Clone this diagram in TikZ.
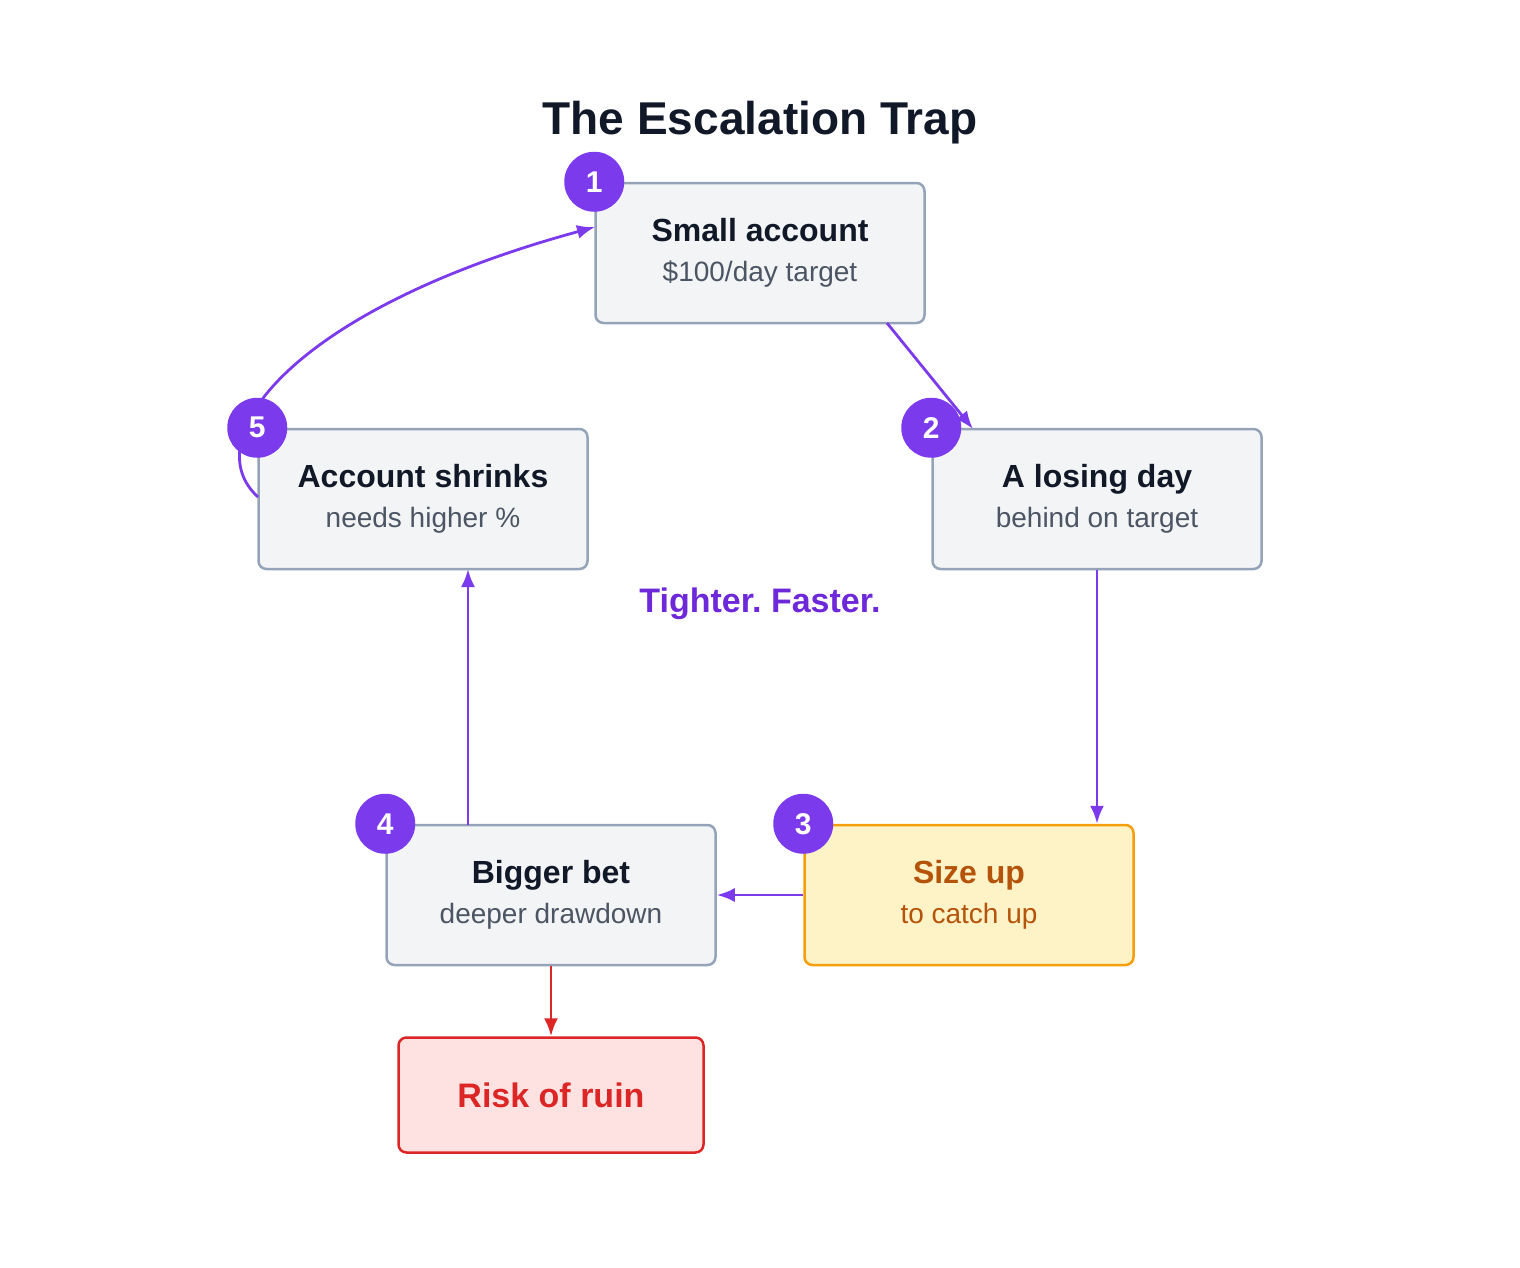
\documentclass[tikz,border=0pt]{standalone}
\usepackage{fontspec}
\setmainfont{Liberation Sans}
\usetikzlibrary{arrows.meta}
\definecolor{pur}{HTML}{7C3AED}
\definecolor{purd}{HTML}{6D28D9}
\definecolor{gfill}{HTML}{F3F4F6}
\definecolor{gbord}{HTML}{94A3B8}
\definecolor{tdark}{HTML}{111827}
\definecolor{tsub}{HTML}{4B5563}
\definecolor{ybord}{HTML}{F59E0B}
\definecolor{yfill}{HTML}{FEF3C7}
\definecolor{ytext}{HTML}{B45309}
\definecolor{rbord}{HTML}{DC2626}
\definecolor{rfill}{HTML}{FEE2E2}
\begin{document}
\frenchspacing
\begin{tikzpicture}[x=1pt,y=-1pt,
 box/.style={draw=gbord,fill=gfill,line width=2.5pt,rounded corners=8pt,minimum width=329pt,minimum height=140pt,align=center,inner sep=0pt,font=\fontsize{28}{40}\selectfont},
 num/.style={circle,fill=pur,minimum size=60pt,inner sep=0pt,text=white,font=\fontsize{30}{30}\selectfont\bfseries},
 arr/.style={draw=pur,line width=2.8pt,-{Latex[length=18pt,width=14pt]}}]
\useasboundingbox (0,0) rectangle (1520,1267);
\node[font=\fontsize{46}{46}\selectfont\bfseries,text=tdark] (title) at (760,123) {The Escalation Trap};
\node[box] (b1) at (760,253) {{\color{tdark}\fontsize{32}{40}\selectfont\bfseries Small account}\\{\color{tsub}\$100/day target}};
\node[box] (b2) at (1097,499) {{\color{tdark}\fontsize{32}{40}\selectfont\bfseries A losing day}\\{\color{tsub}behind on target}};
\node[box,draw=ybord,fill=yfill] (b3) at (969,895) {{\color{ytext}\fontsize{32}{40}\selectfont\bfseries Size up}\\{\color{ytext}to catch up}};
\node[box] (b4) at (551,895) {{\color{tdark}\fontsize{32}{40}\selectfont\bfseries Bigger bet}\\{\color{tsub}deeper drawdown}};
\node[box] (b5) at (423,499) {{\color{tdark}\fontsize{32}{40}\selectfont\bfseries Account shrinks}\\{\color{tsub}needs higher \%}};
\node[box,draw=rbord,fill=rfill,minimum width=305pt,minimum height=115pt,text=rbord,font=\fontsize{34}{38}\selectfont\bfseries] (r) at (551,1095) {Risk of ruin};
\node[text=purd,font=\fontsize{34}{38}\selectfont\bfseries] (tf) at (760,604) {Tighter. Faster.};
\coordinate (a1) at (887,323); \coordinate (a2) at (973,429);
\draw[arr] (a1) -- (a2);
\draw[arr] (b2.south) -- (b3.north -| b2.south);
\draw[arr] (b3.west) -- (b4.east);
\coordinate (c4) at (468,825); \coordinate (c5) at (468,569);
\draw[arr] (c4) -- (c5);
\draw[arr,draw=rbord] (b4.south) -- (r.north);
\coordinate (s5) at (258,497); \coordinate (e1) at (595,227);
\draw[arr] (s5) .. controls (195,440) and (290,310) .. (e1);
\node[num] at (b1.north west) {1};
\node[num] at (b2.north west) {2};
\node[num] at (b3.north west) {3};
\node[num] at (b4.north west) {4};
\node[num] at (b5.north west) {5};
\end{tikzpicture}
\end{document}
